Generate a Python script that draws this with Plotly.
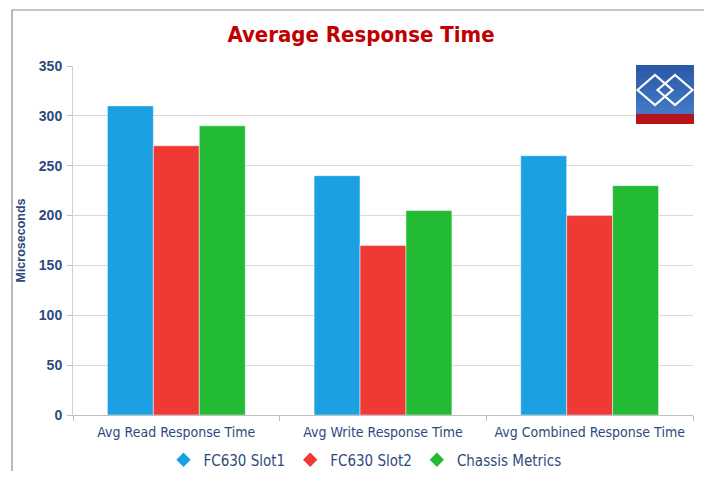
import plotly.graph_objects as go

categories = ["Avg Read Response Time", "Avg Write Response Time", "Avg Combined Response Time"]
series_names = ["FC630 Slot1", "FC630 Slot2", "Chassis Metrics"]
slot1 = [310, 240, 260]
slot2 = [270, 170, 200]
chassis = [290, 205, 230]
y_ticks = [0, 50, 100, 150, 200, 250, 300, 350]
colors = ["#1BA1E2", "#EF3935", "#22BB33"]

OFF = 8  # page body margin
W, H = 712 - OFF, 479 - 2 * OFF
L, T = 73 - OFF, 66 - OFF
R = W - (693 - OFF)
B = H - (415 - OFF)
PW, PH = W - L - R, H - T - B

def px(x):
    return (x - OFF - L) / PW

def py(y):
    return (T + PH - (y - OFF)) / PH

NARROW = "DejaVu Sans Condensed, Liberation Sans Narrow, sans-serif"
AXC = "#2E4A7C"

fig = go.Figure()
for name, vals, c in zip(series_names, [slot1, slot2, chassis], colors):
    fig.add_trace(go.Bar(x=categories, y=vals, name=name,
                         marker=dict(color=c, line=dict(color="rgba(255,255,255,0.6)", width=0.8)),
                         showlegend=False))
    fig.add_trace(go.Scatter(x=[None], y=[None], mode="markers", name=name,
                             marker=dict(symbol="diamond", size=11, color=c)))

shapes = []
# outer frame
shapes.append(dict(type="rect", xref="paper", yref="paper", x0=px(12), x1=px(708), y0=py(495), y1=py(10),
                   line=dict(color="#8C8C8C", width=1.2), fillcolor="rgba(0,0,0,0)", layer="below"))
# logo (decoration)
lx0, lx1, ly0, ly1 = 636, 694, 65, 114
blues = ["#2C5AA8", "#2F5EAC", "#3262B0", "#3566B4", "#386BB8", "#3B6FBC", "#3F74C0", "#4378C3"]
n = len(blues)
for i in range(n):
    y_a = ly0 + (ly1 - ly0) * i / n
    shapes.append(dict(type="rect", xref="paper", yref="paper", x0=px(lx0), x1=px(lx1), y0=py(ly1), y1=py(y_a),
                       fillcolor=blues[i], line=dict(width=0)))
shapes.append(dict(type="rect", xref="paper", yref="paper", x0=px(lx0), x1=px(lx1), y0=py(124), y1=py(114),
                   fillcolor="#B5141B", line=dict(width=0)))
for cx in (655, 675):
    hw, hh, cy = 17.5, 15, 90
    path = (f"M {px(cx-hw)} {py(cy)} L {px(cx)} {py(cy-hh)} L {px(cx+hw)} {py(cy)} "
            f"L {px(cx)} {py(cy+hh)} Z")
    shapes.append(dict(type="path", xref="paper", yref="paper", path=path,
                       line=dict(color="white", width=2.2), fillcolor="rgba(0,0,0,0)"))

fig.update_layout(
    width=W, height=H,
    margin=dict(l=L, r=R, t=T, b=B, autoexpand=False),
    paper_bgcolor="white", plot_bgcolor="white",
    barmode="group", bargap=0.333, bargroupgap=0,
    title=dict(text="Average Response Time", x=(361 - OFF) / W, xref="container",
               y=1 - (34 - OFF) / H, yref="container",
               xanchor="center", yanchor="middle",
               font=dict(family=NARROW, size=22, color="#C00000", weight="bold")),
    xaxis=dict(showline=True, linecolor="#BFBFBF", linewidth=1, tickson="boundaries", ticks="outside",
               ticklen=5, tickcolor="#BFBFBF", showgrid=False, ticklabelstandoff=4,
               tickfont=dict(family=NARROW, size=14, color=AXC)),
    yaxis=dict(range=[0, 350], tickvals=y_ticks, showline=True, linecolor="#D0D0D0", linewidth=1,
               ticks="outside", ticklen=5, tickcolor="#BFBFBF", gridcolor="#D9D9D9", gridwidth=1,
               zeroline=False, ticklabelstandoff=2,
               tickfont=dict(family="Liberation Sans, Arial, sans-serif", size=14, color=AXC, weight="bold"),
               title=dict(text="Microseconds", standoff=10,
                          font=dict(family="Liberation Sans, Arial, sans-serif", size=12.5, color=AXC,
                                    weight="bold"))),
    legend=dict(orientation="h", x=px(365), xanchor="center", y=py(460), yanchor="middle",
                font=dict(family=NARROW, size=15, color=AXC), itemwidth=30, tracegroupgap=0,
                bgcolor="rgba(0,0,0,0)"),
    shapes=shapes,
)

fig.write_html("out.html")
